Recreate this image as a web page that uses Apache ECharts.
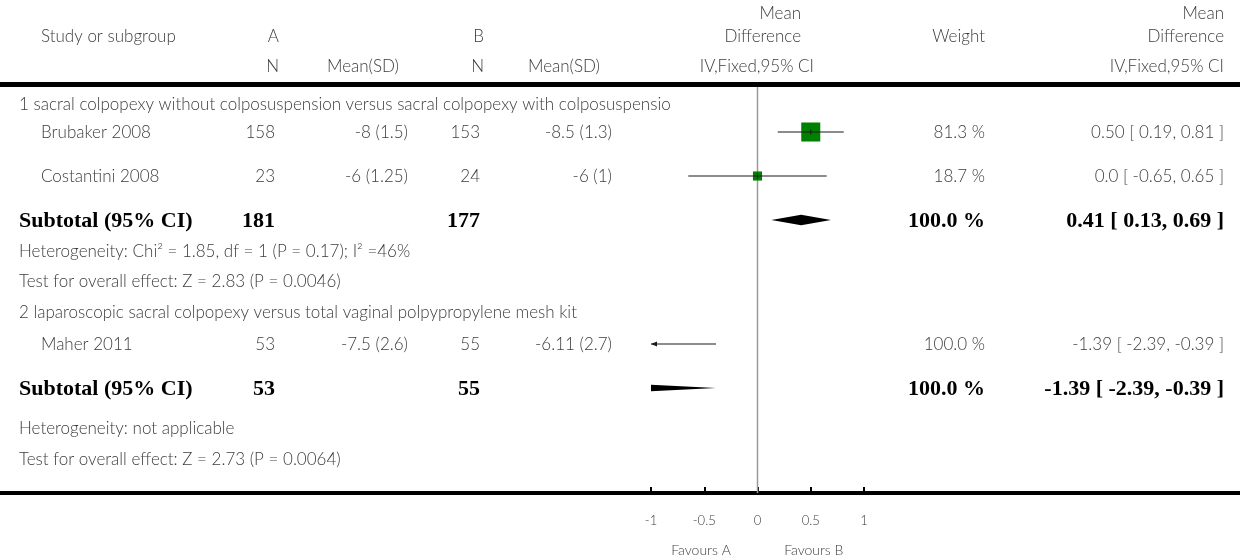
<!DOCTYPE html>
<html>
<head>
<meta charset="utf-8">
<script src="https://cdn.jsdelivr.net/npm/echarts@6/dist/echarts.min.js"></script>
<style>
  html, body { margin: 0; padding: 0; background: #ffffff; }
  #chart { width: 1240px; height: 558px; }
</style>
</head>
<body>
<div id="chart"></div>
<script>
// ---- Individual studies ----
const studyNames = ['Brubaker 2008', 'Costantini 2008', 'Maher 2011'];
const nA = [158, 23, 53];
const meanSdA = ['-8 (1.5)', '-6 (1.25)', '-7.5 (2.6)'];
const nB = [153, 24, 55];
const meanSdB = ['-8.5 (1.3)', '-6 (1)', '-6.11 (2.7)'];
const md = [0.50, 0.0, -1.39];
const mdLow = [0.19, -0.65, -2.39];
const mdHigh = [0.81, 0.65, -0.39];
const weights = [81.3, 18.7, 100.0];

// ---- Subgroups ----
const groupTitles = [
  '1 sacral colpopexy without colposuspension versus sacral colpopexy with colposuspensio',
  '2 laparoscopic sacral colpopexy versus total vaginal polpypropylene mesh kit'
];
const subNA = [181, 53];
const subNB = [177, 55];
const subMd = [0.41, -1.39];
const subLow = [0.13, -2.39];
const subHigh = [0.69, -0.39];
const subWeight = [100.0, 100.0];
const heterogeneity = [
  'Heterogeneity: Chi² = 1.85, df = 1 (P = 0.17); I² =46%',
  'Heterogeneity: not applicable'
];
const overallEffect = [
  'Test for overall effect: Z = 2.83 (P = 0.0046)',
  'Test for overall effect: Z = 2.73 (P = 0.0064)'
];

// ---- Axis ----
const xTicks = [-1, -0.5, 0, 0.5, 1];
const tickLabels = ['-1', '-0.5', '0', '0.5', '1'];
const favours = ['Favours A', 'Favours B'];

// ---- Layout (page rows and columns) ----
const rowTitle = [105, 313];
const rowStudy = [132, 176, 344];
const rowSub = [220, 388];
const rowHet = [252, 429];
const rowTest = [282, 460];
const PLOT_TOP = 87, PLOT_BOTTOM = 493;
const COL = {
  section: 19, study: 41,
  nA: 275, sdA: 408, nB: 480, sdB: 612,
  hdrNA: 279, hdrSdA: 399, hdrNB: 484, hdrSdB: 600,
  plotHdr: 801, plotHdrIV: 814,
  weight: 985, ci: 1224
};
const REG = '300 17px Lato';
const SMALL = '300 14px Lato';
const BOLD = 'bold 22px "Liberation Serif"';
const TXT = '#3c3c3c';
const BOX_SCALE = 2.11;     // square side per sqrt(weight)
const DIAMOND_HALF = 5.3;   // half height of pooled diamond

const fmt = v => (v === 0 ? '0.0' : v.toFixed(2));
const ciText = (m, l, h) => fmt(m) + ' [ ' + fmt(l) + ', ' + fmt(h) + ' ]';

function txt(text, x, y, align, font, color) {
  return {
    type: 'text', x: x, y: y, silent: true, z: 10,
    style: { text: text, textAlign: align, textVerticalAlign: 'middle', font: font, fill: color || TXT }
  };
}

// ---- Table text ----
const texts = [];
texts.push(txt('Study or subgroup', COL.study, 37, 'left', REG));
texts.push(txt('A', COL.hdrNA, 37, 'right', REG));
texts.push(txt('B', COL.hdrNB, 37, 'right', REG));
texts.push(txt('N', COL.hdrNA, 67, 'right', REG));
texts.push(txt('Mean(SD)', COL.hdrSdA, 67, 'right', REG));
texts.push(txt('N', COL.hdrNB, 67, 'right', REG));
texts.push(txt('Mean(SD)', COL.hdrSdB, 67, 'right', REG));
texts.push(txt('Mean', COL.plotHdr, 14, 'right', REG));
texts.push(txt('Difference', COL.plotHdr, 37, 'right', REG));
texts.push(txt('IV,Fixed,95% CI', COL.plotHdrIV, 67, 'right', REG));
texts.push(txt('Weight', COL.weight, 37, 'right', REG));
texts.push(txt('Mean', COL.ci, 14, 'right', REG));
texts.push(txt('Difference', COL.ci, 37, 'right', REG));
texts.push(txt('IV,Fixed,95% CI', COL.ci, 67, 'right', REG));

for (let g = 0; g < groupTitles.length; g++) {
  texts.push(txt(groupTitles[g], COL.section, rowTitle[g], 'left', REG));
  texts.push(txt('Subtotal (95% CI)', COL.section, rowSub[g] + 1, 'left', BOLD, '#000'));
  texts.push(txt(String(subNA[g]), COL.nA, rowSub[g] + 1, 'right', BOLD, '#000'));
  texts.push(txt(String(subNB[g]), COL.nB, rowSub[g] + 1, 'right', BOLD, '#000'));
  texts.push(txt(subWeight[g].toFixed(1) + ' %', COL.weight, rowSub[g] + 1, 'right', BOLD, '#000'));
  texts.push(txt(ciText(subMd[g], subLow[g], subHigh[g]), COL.ci, rowSub[g] + 1, 'right', BOLD, '#000'));
  texts.push(txt(heterogeneity[g], COL.section, rowHet[g], 'left', REG));
  texts.push(txt(overallEffect[g], COL.section, rowTest[g], 'left', REG));
}
for (let i = 0; i < studyNames.length; i++) {
  const y = rowStudy[i] + 1;
  texts.push(txt(studyNames[i], COL.study, y, 'left', REG));
  texts.push(txt(String(nA[i]), COL.nA, y, 'right', REG));
  texts.push(txt(meanSdA[i], COL.sdA, y, 'right', REG));
  texts.push(txt(String(nB[i]), COL.nB, y, 'right', REG));
  texts.push(txt(meanSdB[i], COL.sdB, y, 'right', REG));
  texts.push(txt(weights[i].toFixed(1) + ' %', COL.weight, y, 'right', REG));
  texts.push(txt(ciText(md[i], mdLow[i], mdHigh[i]), COL.ci, y, 'right', REG));
}

// Horizontal rules across the table
texts.push({ type: 'rect', silent: true, shape: { x: 0, y: 82, width: 1240, height: 5 }, style: { fill: '#000' } });
texts.push({ type: 'rect', silent: true, shape: { x: 0, y: 491, width: 1240, height: 4 }, style: { fill: '#000' } });

const XMIN = xTicks[0], XMAX = xTicks[xTicks.length - 1];

// Study markers: CI line, weighted square, arrows when the CI runs off the scale
function renderStudy(params, api) {
  const m = api.value(0), lo = api.value(1), hi = api.value(2), w = api.value(3), y = api.value(4);
  const pL = api.coord([Math.max(lo, XMIN), y]);
  const pR = api.coord([Math.min(hi, XMAX), y]);
  const children = [];
  const inRange = m >= XMIN && m <= XMAX;
  if (inRange) {
    const c = api.coord([m, y]);
    const s = BOX_SCALE * Math.sqrt(w);
    children.push({ type: 'rect', shape: { x: c[0] - s / 2, y: c[1] - s / 2, width: s, height: s }, style: { fill: '#008000' } });
  }
  children.push({ type: 'line', shape: { x1: pL[0], y1: pL[1], x2: pR[0], y2: pR[1] }, style: { stroke: '#1a1a1a', lineWidth: 1.2 } });
  if (inRange) {
    const c = api.coord([m, y]);
    children.push({ type: 'line', shape: { x1: c[0], y1: c[1] - 2.5, x2: c[0], y2: c[1] + 2.5 }, style: { stroke: '#1a1a1a', lineWidth: 1 } });
  }
  if (lo < XMIN) {
    children.push({ type: 'polygon', shape: { points: [[pL[0], pL[1]], [pL[0] + 6, pL[1] - 2.5], [pL[0] + 6, pL[1] + 2.5]] }, style: { fill: '#1a1a1a' } });
  }
  if (hi > XMAX) {
    children.push({ type: 'polygon', shape: { points: [[pR[0], pR[1]], [pR[0] - 6, pR[1] - 2.5], [pR[0] - 6, pR[1] + 2.5]] }, style: { fill: '#1a1a1a' } });
  }
  return { type: 'group', children: children };
}

// Clip a polygon to the vertical band [x0, x1]
function clipBand(pts, x0, x1) {
  function clip(points, inside, cross) {
    const out = [];
    for (let i = 0; i < points.length; i++) {
      const a = points[i], b = points[(i + 1) % points.length];
      const ia = inside(a), ib = inside(b);
      if (ia) out.push(a);
      if (ia !== ib) out.push(cross(a, b));
    }
    return out;
  }
  const at = (a, b, xv) => { const t = (xv - a[0]) / (b[0] - a[0]); return [xv, a[1] + t * (b[1] - a[1])]; };
  let r = clip(pts, p => p[0] >= x0, (a, b) => at(a, b, x0));
  r = clip(r, p => p[0] <= x1, (a, b) => at(a, b, x1));
  return r;
}

// Pooled estimate diamonds
function renderDiamond(params, api) {
  const m = api.value(0), lo = api.value(1), hi = api.value(2), y = api.value(3);
  const c = api.coord([m, y]);
  const l = api.coord([lo, y]);
  const r = api.coord([hi, y]);
  const pts = [[l[0], c[1]], [c[0], c[1] - DIAMOND_HALF], [r[0], c[1]], [c[0], c[1] + DIAMOND_HALF]];
  const xa = api.coord([XMIN, y])[0], xb = api.coord([XMAX, y])[0];
  return { type: 'polygon', shape: { points: clipBand(pts, xa, xb) }, style: { fill: '#000' } };
}

const studyData = studyNames.map((_, i) => [md[i], mdLow[i], mdHigh[i], weights[i], rowStudy[i]]);
const diamondData = subMd.map((_, g) => [subMd[g], subLow[g], subHigh[g], rowSub[g]]);

const chart = echarts.init(document.getElementById('chart'), null, { renderer: 'canvas' });
chart.setOption({
  animation: false,
  backgroundColor: '#ffffff',
  grid: { left: 651, right: 376, top: PLOT_TOP, bottom: 558 - PLOT_BOTTOM, containLabel: false },
  xAxis: {
    type: 'value', min: XMIN, max: XMAX, interval: 0.5,
    axisLine: { show: false },
    axisTick: { show: true, inside: true, length: 6, lineStyle: { color: '#000', width: 2 } },
    splitLine: { show: false },
    axisLabel: {
      margin: 21, color: TXT, fontFamily: 'Lato', fontWeight: 300, fontSize: 13,
      formatter: v => { const k = xTicks.indexOf(v); return k >= 0 ? tickLabels[k] : ''; }
    }
  },
  yAxis: { type: 'value', min: PLOT_TOP, max: PLOT_BOTTOM, inverse: true, show: false },
  graphic: { elements: texts },
  series: [
    {
      // line of no effect
      type: 'line', data: [[0, PLOT_TOP], [0, PLOT_BOTTOM]], symbol: 'none', silent: true,
      lineStyle: { color: '#9a9a9a', width: 1.5 }, z: 1
    },
    {
      type: 'custom', renderItem: renderStudy, data: studyData,
      encode: { x: [0, 1, 2], y: 4 }, silent: true, z: 3
    },
    {
      type: 'custom', renderItem: renderDiamond, data: diamondData,
      encode: { x: [0, 1, 2], y: 3 }, silent: true, z: 3
    }
  ]
});

// "Favours" captions placed either side of the line of no effect
const fy = 550;
const pA = chart.convertToPixel({ xAxisIndex: 0, yAxisIndex: 0 }, [-0.25, PLOT_BOTTOM]);
const pB = chart.convertToPixel({ xAxisIndex: 0, yAxisIndex: 0 }, [0.25, PLOT_BOTTOM]);
chart.setOption({
  graphic: {
    elements: texts.concat([
      txt(favours[0], pA[0], fy, 'right', SMALL),
      txt(favours[1], pB[0], fy, 'left', SMALL)
    ])
  }
});
</script>
</body>
</html>
